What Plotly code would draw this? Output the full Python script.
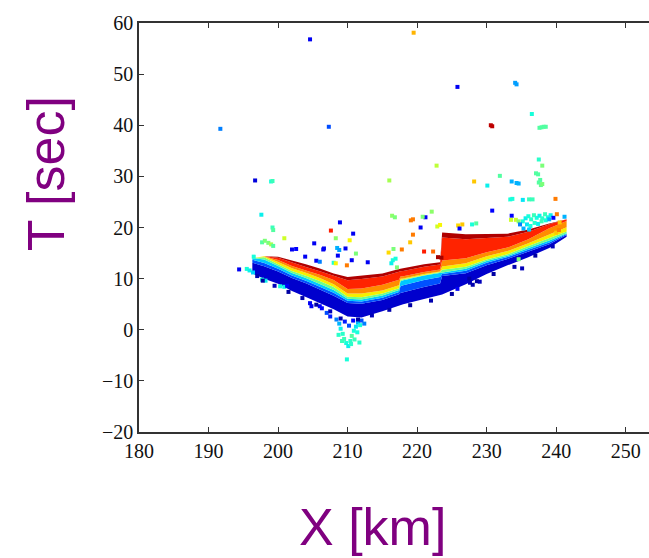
import plotly.graph_objects as go

# ---------------- data ----------------
# main band: column x positions and layer boundaries (bottom -> top)
band_x  = [196.3, 198, 200, 202, 204, 206, 208, 210, 212, 215, 217.4, 217.6, 218, 221, 223.3, 223.6, 227, 230, 233, 236, 239, 241.5]
band_b0 = [11.0, 10.0, 9.0, 7.6, 6.4, 5.2, 4.0, 2.6, 2.4, 3.6, 4.8, 4.9, 5.0, 6.0, 6.8, 6.9, 8.9, 10.9, 12.6, 14.2, 16.0, 18.2]
band_b1 = [13.1, 12.42, 11.39, 10.12, 9.09, 7.92, 6.66, 5.22, 5.11, 5.82, 6.93, 7.2, 7.35, 8.38, 9.04, 10.53, 11.06, 12.64, 13.84, 15.28, 16.72, 18.54]
band_b2 = [13.7, 13.08, 11.92, 10.6, 9.6, 8.46, 7.22, 5.68, 5.52, 6.26, 7.36, 8.5, 8.7, 9.74, 10.32, 10.89, 11.55, 13.11, 14.21, 15.66, 17.06, 18.71]
band_b3 = [14.0, 13.74, 12.45, 11.08, 10.11, 9.01, 7.78, 6.07, 5.93, 6.71, 7.78, 9.5, 9.7, 10.62, 11.15, 11.26, 11.94, 13.43, 14.46, 15.98, 17.44, 18.88]
band_b4 = [14.0, 14.18, 12.82, 11.5, 10.56, 9.55, 8.34, 6.45, 6.34, 7.08, 8.14, 9.75, 9.9, 10.76, 11.28, 11.74, 12.33, 13.74, 14.77, 16.36, 17.92, 19.22]
band_b5 = [14.0, 14.4, 13.24, 12.04, 11.14, 10.1, 8.9, 7.07, 7.07, 7.67, 8.71, 9.98, 10.04, 10.9, 11.41, 12.35, 13.02, 14.38, 15.39, 16.9, 18.64, 20.07]
band_b6 = [14.0, 14.4, 13.66, 12.46, 11.58, 10.78, 9.74, 7.99, 8.06, 8.78, 9.77, 10.4, 10.46, 11.3, 11.79, 13.56, 14.0, 15.17, 16.07, 17.71, 19.84, 21.26]
band_b7 = [14.0, 14.4, 14.09, 13.12, 12.29, 11.46, 10.51, 9.68, 9.94, 10.41, 11.33, 11.46, 11.51, 12.32, 12.75, 18.03, 17.72, 18.01, 18.18, 19.17, 20.66, 21.6]
band_b8 = [14.0, 14.4, 14.3, 13.6, 12.8, 12.0, 11.0, 10.3, 10.6, 11.0, 11.9, 11.95, 12.0, 12.8, 13.2, 19.0, 18.7, 18.8, 18.8, 19.6, 20.8, 21.6]
band_layer_colors = ["rgb(0,0,205)", "rgb(0,80,255)", "rgb(0,200,255)", "rgb(110,255,140)",
                     "rgb(245,240,0)", "rgb(255,140,0)", "rgb(255,35,0)", "rgb(175,0,0)"]

# scattered points (x [km], T [sec], colour value 0..1 on jet)
pts_x = [204.6, 219.5, 225.8, 234.1, 234.3, 191.7, 207.3, 230.6, 230.8, 237.6, 237.9, 238.2, 238.5, 236.5,
         222.8, 237.5, 238.0, 231.9, 237.1, 237.4, 196.7, 199.0, 199.2, 216.0, 228.2, 230.1, 233.6, 234.3, 234.6,
         237.5, 237.8, 237.7, 238.0, 239.9, 233.4, 233.7, 235.2, 236.1, 236.6, 230.8, 197.6, 199.2, 199.3, 208.9,
         220.5, 216.4, 216.8, 219.1, 219.4, 221.2, 220.8, 222.1, 222.9, 223.3, 225.9, 226.5, 227.9, 228.5, 226.1,
         241.2, 233.6, 233.5, 234.2, 234.6,
         235.2, 235.6, 236.0, 236.4, 236.8, 237.2, 237.6, 238.0, 238.4, 238.8, 239.2, 235.8, 236.3, 236.9, 237.4,
         237.9, 238.5, 239.0, 239.6, 240.1, 240.5, 234.8, 235.3, 236.1,
         194.4, 195.5, 195.9, 196.4, 196.5, 197.7, 198.1, 198.6, 199.0, 199.3, 200.9, 202.0, 202.6, 203.9, 205.2,
         206.6, 207.6, 210.8, 208.3, 210.3, 208.5, 208.8, 209.7, 208.6, 205.5, 206.0, 211.2, 212.9, 210.6, 209.9,
         197.7, 198.2, 200.3, 200.9, 201.3, 204.6, 204.8, 206.0, 209.9, 206.5, 208.0, 208.3,
         208.4, 208.8, 209.0, 209.3, 209.5, 209.8, 210.1, 210.4, 210.6, 210.9, 211.2, 211.5, 211.8, 210.2, 209.6,
         210.8, 209.2, 210.5, 211.0, 211.4, 212.0, 212.4, 208.7, 211.7, 206.3, 207.0, 207.5,
         227.5, 227.6, 228.6, 229.0, 225.8, 235.1, 234.6, 240.0, 240.4,
         215.9, 216.6, 217.8, 216.5, 216.3, 216.9, 217.1, 219.0, 219.4, 221.0, 222.3, 223.0, 223.5,
         197.0, 197.8, 199.5, 201.5, 203.5, 205.5, 207.5, 209.0, 211.5, 213.5, 216.0, 219.0, 222.0, 225.0,
         228.0, 231.0, 234.0, 237.0, 239.5]
pts_y = [56.8, 58.1, 47.5, 48.3, 48.0, 39.3, 39.7, 40.0, 39.8, 39.5, 39.6, 39.7, 39.7, 42.2,
         32.1, 33.3, 32.1, 30.1, 30.6, 30.4, 29.2, 29.0, 29.1, 29.2, 29.0, 28.2, 29.0, 28.7, 28.6,
         28.8, 28.3, 29.3, 28.5, 25.6, 25.5, 25.6, 25.4, 25.5, 25.5, 23.3, 22.5, 20.0, 19.5, 21.0,
         20.0, 22.3, 22.0, 21.4, 21.6, 22.0, 22.1, 23.1, 20.2, 20.5, 20.4, 20.6, 20.6, 20.8, 19.8,
         22.1, 22.3, 21.5, 21.5, 21.2,
         21.2, 21.8, 22.2, 21.6, 22.4, 21.9, 22.3, 21.8, 22.6, 22.0, 22.4, 20.6, 20.3, 20.9, 20.7,
         21.2, 21.4, 21.6, 21.9, 22.6, 21.0, 20.6, 19.8, 19.6,
         11.8, 11.9, 11.6, 11.2, 14.3, 17.1, 17.4, 17.0, 16.7, 16.4, 17.9, 15.7, 15.8, 14.3, 16.9,
         15.9, 19.4, 18.8, 17.9, 17.5, 16.0, 15.6, 15.9, 14.5, 13.5, 13.3, 14.9, 13.2, 13.6, 12.6,
         9.8, 9.6, 8.5, 8.4, 8.6, 5.2, 4.6, 4.6, -5.8, 15.7, 13.1, 13.0,
         2.0, 1.2, 0.2, -0.8, -1.8, -2.6, -3.2, -2.2, -1.2, -0.2, 0.6, 1.4, 0.9, 0.8, 1.6,
         1.8, -2.2, -2.8, -1.9, -0.5, 1.8, 1.2, -1.0, -2.5, 4.2, 3.3, 2.6,
         10.0, 9.2, 9.5, 9.4, 8.0, 12.0, 13.8, 19.0, 19.5,
         15.1, 15.8, 15.7, 13.6, 13.0, 13.9, 12.2, 17.1, 18.6, 15.3, 15.3, 14.2, 14.1,
         10.5, 9.6, 8.6, 7.4, 6.2, 4.9, 3.6, 2.2, 2.0, 2.8, 3.9, 4.8, 5.7, 7.0,
         8.8, 10.9, 12.3, 14.5, 16.3]
pts_c = [0.1, 0.72, 0.1, 0.28, 0.28, 0.25, 0.2, 0.95, 0.95, 0.45, 0.45, 0.45, 0.45, 0.38,
         0.58, 0.4, 0.5, 0.45, 0.45, 0.45, 0.08, 0.38, 0.42, 0.55, 0.7, 0.36, 0.3, 0.3, 0.3,
         0.45, 0.47, 0.45, 0.5, 0.78, 0.38, 0.38, 0.35, 0.42, 0.42, 0.12, 0.36, 0.42, 0.45, 0.1,
         0.1, 0.52, 0.5, 0.78, 0.78, 0.1, 0.5, 0.52, 0.6, 0.65, 0.68, 0.7, 0.38, 0.45, 0.12,
         0.3, 0.12, 0.6, 0.6, 0.52,
         0.38, 0.36, 0.38, 0.4, 0.42, 0.38, 0.36, 0.4, 0.42, 0.38, 0.36, 0.35, 0.38, 0.4, 0.36,
         0.42, 0.38, 0.3, 0.12, 0.78, 0.7, 0.25, 0.3, 0.33,
         0.1, 0.38, 0.36, 0.33, 0.38, 0.45, 0.5, 0.5, 0.55, 0.45, 0.6, 0.1, 0.12, 0.1, 0.1,
         0.1, 0.88, 0.1, 0.52, 0.65, 0.3, 0.28, 0.1, 0.1, 0.1, 0.25, 0.5, 0.1, 0.1, 0.78,
         0.38, 0.36, 0.38, 0.36, 0.1, 0.1, 0.1, 0.12, 0.38, 0.1, 0.38, 0.65,
         0.25, 0.3, 0.36, 0.4, 0.42, 0.38, 0.36, 0.4, 0.45, 0.38, 0.35, 0.3, 0.38, 0.2, 0.15,
         0.12, 0.42, 0.4, 0.42, 0.38, 0.2, 0.25, 0.4, 0.4, 0.12, 0.2, 0.15,
         0.03, 0.05, 0.03, 0.05, 0.1, 0.05, 0.5, 0.7, 0.78,
         0.68, 0.5, 0.78, 0.38, 0.36, 0.38, 0.5, 0.7, 0.78, 0.88, 0.8, 0.97, 0.97,
         0.04, 0.03, 0.05, 0.03, 0.04, 0.03, 0.05, 0.04, 0.03, 0.05, 0.04, 0.03, 0.04, 0.03,
         0.04, 0.03, 0.04, 0.03, 0.05]

x_ticks = [180, 190, 200, 210, 220, 230, 240, 250]
y_ticks = [-20, -10, 0, 10, 20, 30, 40, 50, 60]

# matplotlib-like jet colour scale
jet = [[0.0, "rgb(0,0,128)"], [0.11, "rgb(0,0,255)"], [0.125, "rgb(0,0,255)"],
       [0.34, "rgb(0,219,255)"], [0.375, "rgb(20,255,222)"], [0.64, "rgb(239,255,8)"],
       [0.66, "rgb(255,237,0)"], [0.89, "rgb(255,18,0)"], [0.91, "rgb(240,0,0)"], [1.0, "rgb(128,0,0)"]]

fig = go.Figure()

bounds = [band_b0, band_b1, band_b2, band_b3, band_b4, band_b5, band_b6, band_b7, band_b8]
fig.add_trace(go.Scatter(x=band_x, y=bounds[0], mode="lines", line=dict(width=0),
                         showlegend=False, hoverinfo="skip"))
for i in range(1, len(bounds)):
    fig.add_trace(go.Scatter(x=band_x, y=bounds[i], mode="lines", line=dict(width=0),
                             fill="tonexty", fillcolor=band_layer_colors[i - 1],
                             showlegend=False, hoverinfo="skip"))

fig.add_trace(go.Scatter(x=pts_x, y=pts_y, mode="markers",
                         marker=dict(symbol="square", size=4, color=pts_c, colorscale=jet,
                                     cmin=0, cmax=1, line=dict(width=0)),
                         showlegend=False, hoverinfo="skip"))

tick_font = dict(family="Liberation Serif", size=20, color="#111111")
fig.update_xaxes(range=[180, 253.35], tickvals=x_ticks, ticks="inside", ticklen=5,
                 tickcolor="#333333", showline=True, linecolor="#333333", linewidth=1.5,
                 mirror="ticks", showgrid=False, zeroline=False, tickfont=tick_font)
fig.update_yaxes(range=[-20, 60], tickvals=y_ticks, ticks="inside", ticklen=5,
                 tickcolor="#333333", showline=True, linecolor="#333333", linewidth=1.5,
                 showgrid=False, zeroline=False, tickfont=tick_font)

title_font = dict(family="Liberation Sans", size=52, color="#800080")
fig.update_layout(
    width=649, height=558,
    margin=dict(l=139, r=0, t=23, b=126),
    plot_bgcolor="white", paper_bgcolor="white",
    annotations=[
        dict(text="T [sec]", xref="paper", yref="paper", x=-0.183, y=0.632,
             xanchor="center", yanchor="middle", textangle=-90, showarrow=False, font=title_font),
        dict(text="X [km]", xref="paper", yref="paper", x=0.457, y=-0.233,
             xanchor="center", yanchor="middle", showarrow=False, font=title_font),
    ],
)

fig.write_html("out.html")
